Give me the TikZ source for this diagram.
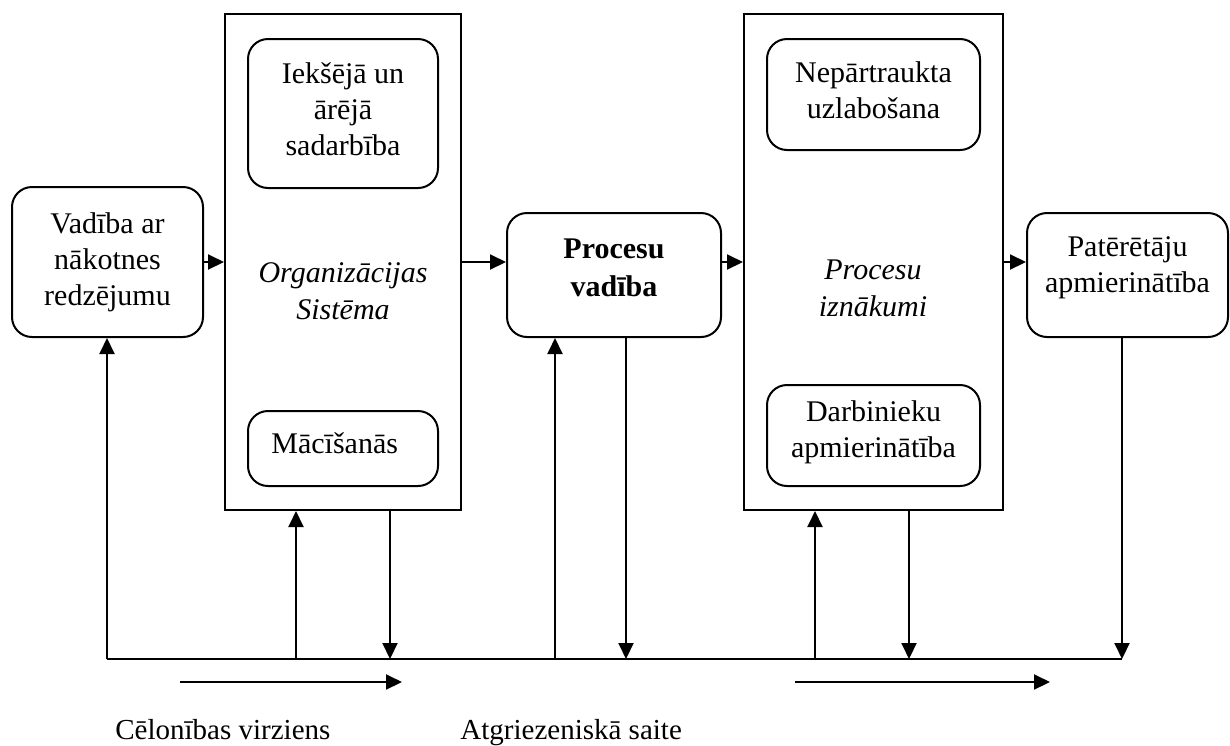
\documentclass[tikz,border=0pt]{standalone}
\usepackage{fontspec}
\setmainfont{Liberation Serif}
\usetikzlibrary{arrows.meta}
\begin{document}
\begin{tikzpicture}[x=0.5pt,y=-0.5pt,
  every node/.style={font=\fontsize{15}{18}\selectfont},
  itx/.style={font=\fontsize{15}{18.5}\selectfont\itshape},
  bfx/.style={font=\fontsize{15}{19}\selectfont\bfseries},
  legend/.style={font=\fontsize{14.5}{18}\selectfont, anchor=base west, inner sep=0pt},
  rbox/.style={draw, line width=1pt, rounded corners=10pt, align=center, inner sep=0pt},
  frame/.style={draw, line width=1pt, inner sep=0pt},
  link/.style={line width=1pt, -{Triangle[length=8pt,width=7.5pt]}},
  plain/.style={line width=1pt}]
\useasboundingbox (0,0) rectangle (1230,745);

% --- main blocks ---
\node[rbox, minimum width=95.5pt, minimum height=75pt] (vad) at (107.5,262)
  {Vadība ar\\nākotnes\\redzējumu};

\node[frame, minimum width=118pt, minimum height=248pt] (org) at (343,262) {};
\node[rbox, minimum width=95pt, minimum height=74.5pt] (iek) at (343,113.5)
  {Iekšējā un\\ārējā\\sadarbība\rule[-4.5pt]{0pt}{0pt}};
\node[rbox, minimum width=95pt, minimum height=37.5pt] (mac) at (343,448.5) {};
\node[anchor=base west, inner sep=0pt] (mac-t) at (271,453) {Mācīšanās};
\node[itx, anchor=north, inner sep=0pt, align=center] (org-t) at (343,262)
  {Organizācijas\\Sistēma};

\node[rbox, bfx, minimum width=107pt, minimum height=62pt] (proc) at (614,275)
  {Procesu\\vadība\rule[-7pt]{0pt}{0pt}};

\node[frame, minimum width=129.5pt, minimum height=248pt] (izn) at (873.5,262) {};
\node[rbox, minimum width=106.5pt, minimum height=55.5pt] (nep) at (873.5,94.5)
  {Nepārtraukta\\uzlabošana\rule[-4.5pt]{0pt}{0pt}};
\node[rbox, minimum width=106.5pt, minimum height=50.5pt] (darb) at (873.5,435.5)
  {Darbinieku\\apmierinātība\rule[-6pt]{0pt}{0pt}};
\node[itx, anchor=north, inner sep=0pt, align=center] (izn-t) at (873,259)
  {Procesu\\iznākumi};

\node[rbox, minimum width=100.5pt, minimum height=62pt] (pat) at (1127.5,275)
  {Patērētāju\\apmierinātība\rule[-10pt]{0pt}{0pt}};

% --- forward chain ---
\draw[link] (vad.east) -- (org.west);
\draw[link] (org.east) -- (proc.west |- org.east);
\draw[link] (proc.east |- org.east) -- (izn.west);
\draw[link] (izn.east) -- (pat.west |- izn.east);

% --- feedback bus ---
\coordinate (f1) at (107,659);
\coordinate (f2) at (296,659);
\coordinate (f3) at (390,659);
\coordinate (f4) at (555,659);
\coordinate (f5) at (626,659);
\coordinate (f6) at (815,659);
\coordinate (f7) at (909,659);
\coordinate (f8) at (1122,659);
\draw[plain] (f1) -- (f8);
\draw[link] (f1) -- (f1 |- vad.south);
\draw[link] (f2) -- (f2 |- org.south);
\draw[link] (f3 |- org.south) -- (f3);
\draw[link] (f4) -- (f4 |- proc.south);
\draw[link] (f5 |- proc.south) -- (f5);
\draw[link] (f6) -- (f6 |- izn.south);
\draw[link] (f7 |- izn.south) -- (f7);
\draw[link] (f8 |- pat.south) -- (f8);

% --- legend arrows ---
\coordinate (c1) at (180,682);
\coordinate (c2) at (402,682);
\coordinate (c3) at (795,682);
\coordinate (c4) at (1050,682);
\draw[link] (c1) -- (c2);
\draw[link] (c3) -- (c4);
\node[legend] (cel) at (115,739) {Cēlonības virziens};
\node[legend] (atg) at (460,739) {Atgriezeniskā saite};
\end{tikzpicture}
\end{document}
